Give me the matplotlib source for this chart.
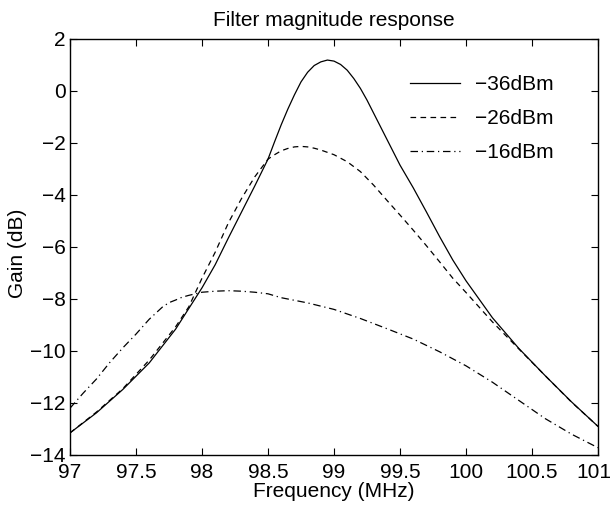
import matplotlib
matplotlib.use("Agg")
import matplotlib.pyplot as plt
import matplotlib.transforms as mtransforms

plt.rcParams['font.family'] = ['Liberation Sans', 'DejaVu Sans']

# -36 dBm (solid)
x36 = [97.0, 97.2, 97.4, 97.6, 97.8, 98.0, 98.1, 98.2, 98.3, 98.4, 98.5, 98.55, 98.6,
       98.65, 98.7, 98.75, 98.8, 98.85, 98.9, 98.95, 99.0, 99.05, 99.1, 99.15, 99.2,
       99.25, 99.3, 99.4, 99.5, 99.6, 99.7, 99.8, 99.9, 100.0, 100.2, 100.4, 100.6,
       100.8, 101.0]
y36 = [-13.15, -12.38, -11.48, -10.46, -9.16, -7.57, -6.68, -5.65, -4.65, -3.65, -2.62,
       -1.95, -1.30, -0.70, -0.15, 0.35, 0.72, 0.98, 1.12, 1.19, 1.15, 1.02, 0.80, 0.48,
       0.10, -0.35, -0.85, -1.85, -2.85, -3.72, -4.65, -5.60, -6.50, -7.30, -8.72,
       -9.90, -10.95, -11.96, -12.90]

# -26 dBm (dashed)
x26 = [97.0, 97.2, 97.4, 97.6, 97.8, 97.9, 98.0, 98.1, 98.2, 98.3, 98.4, 98.5, 98.55,
       98.6, 98.65, 98.7, 98.75, 98.8, 98.85, 98.9, 99.0, 99.1, 99.2, 99.3, 99.4, 99.5,
       99.6, 99.7, 99.8, 99.9, 100.0, 100.2, 100.4, 100.6, 100.8, 101.0]
y26 = [-13.15, -12.35, -11.45, -10.35, -9.07, -8.30, -7.20, -6.20, -5.07, -4.13, -3.30,
       -2.62, -2.45, -2.30, -2.21, -2.15, -2.13, -2.15, -2.20, -2.27, -2.45, -2.72, -3.10,
       -3.62, -4.20, -4.77, -5.35, -5.95, -6.57, -7.20, -7.75, -8.88, -9.92, -10.95,
       -11.97, -12.90]

# -16 dBm (dash-dot)
x16 = [97.0, 97.1, 97.2, 97.3, 97.4, 97.5, 97.6, 97.7, 97.75, 97.8, 97.85, 97.9, 98.0,
       98.1, 98.2, 98.3, 98.4, 98.5, 98.6, 98.8, 99.0, 99.2, 99.4, 99.6, 99.8, 100.0,
       100.2, 100.4, 100.6, 100.8, 101.0]
y16 = [-12.20, -11.62, -11.08, -10.45, -9.88, -9.35, -8.78, -8.31, -8.14, -8.04, -7.93,
       -7.86, -7.74, -7.70, -7.68, -7.70, -7.74, -7.80, -7.95, -8.15, -8.40, -8.75, -9.14,
       -9.54, -10.03, -10.57, -11.20, -11.90, -12.60, -13.20, -13.72]

labels = ['\u221236dBm', '\u221226dBm', '\u221216dBm']
xticks = [97, 97.5, 98, 98.5, 99, 99.5, 100, 100.5, 101]
xticklabels = ['97', '97.5', '98', '98.5', '99', '99.5', '100', '100.5', '101']
yticks = [-14, -12, -10, -8, -6, -4, -2, 0, 2]

W, H = 613, 508
fig = plt.figure(figsize=(W / 100, H / 100), dpi=100)
ax = fig.add_axes([70 / W, 1 - 455 / H, 528 / W, 416 / H])

lw = 0.9
ax.plot(x36, y36, color='black', lw=lw, linestyle='-', label=labels[0])
ax.plot(x26, y26, color='black', lw=lw, linestyle=(0, (4.5, 3.5)), label=labels[1])
ax.plot(x16, y16, color='black', lw=lw, linestyle=(0, (6, 3, 1, 3)), label=labels[2])

ax.set_xlim(97, 101)
ax.set_ylim(-14, 2)
ax.set_xticks(xticks)
ax.set_xticklabels(xticklabels)
ax.set_yticks(yticks)
ax.tick_params(axis='both', direction='in', top=True, right=True, length=5, width=0.8,
               labelsize=15)
ax.tick_params(axis='x', pad=6)
ax.tick_params(axis='y', pad=3)
for s in ax.spines.values():
    s.set_linewidth(1.0)

# nudge the last x tick label slightly left so it stays inside the image
last = ax.get_xticklabels()[-1]
last.set_transform(last.get_transform() +
                   mtransforms.ScaledTranslation(-4 / 100, 0, fig.dpi_scale_trans))

ax.set_title('Filter magnitude response', fontsize=15, pad=9)
ax.set_xlabel('Frequency (MHz)', fontsize=15, labelpad=0)
ax.set_ylabel('Gain (dB)', fontsize=15, labelpad=2)
ax.yaxis.label.set_y(0.485)

leg = ax.legend(loc='upper left', bbox_to_anchor=(410 / W, 1 - 75 / H),
                bbox_transform=fig.transFigure, frameon=False, fontsize=15,
                handlelength=2.4, handletextpad=0.7, labelspacing=0.72,
                borderpad=0, borderaxespad=0)

fig.savefig('out.png', dpi=100)
